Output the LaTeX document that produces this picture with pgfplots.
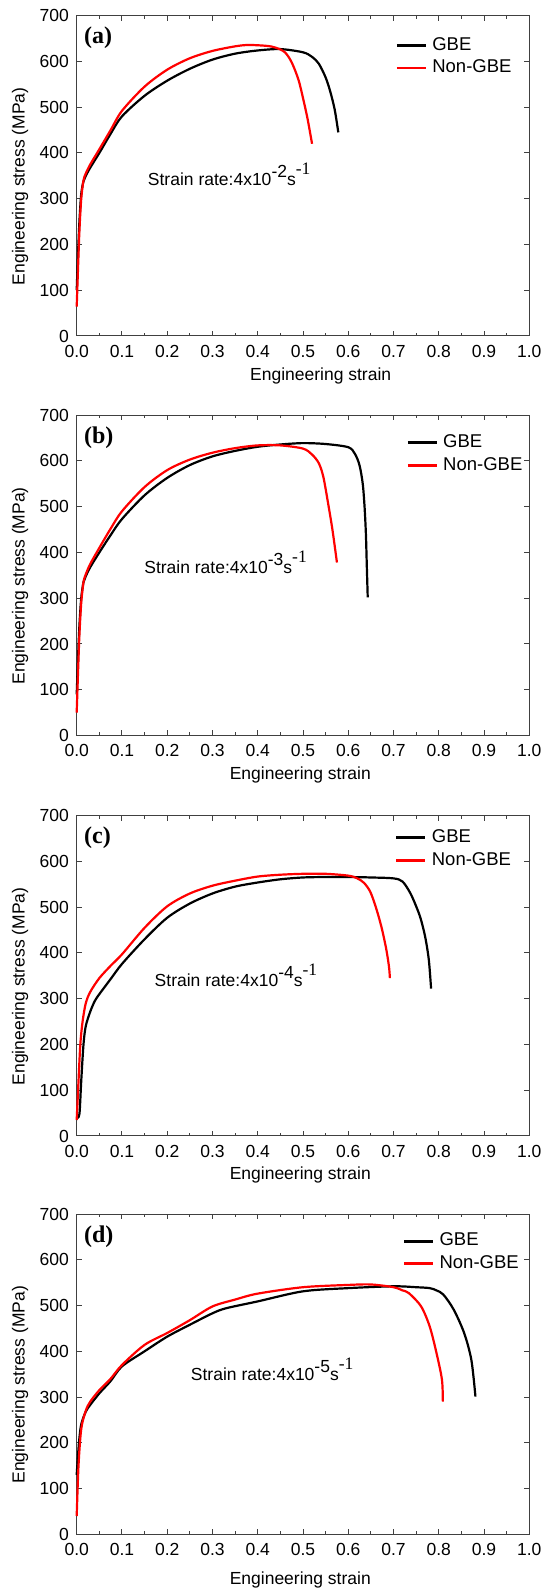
\documentclass[border=0pt]{standalone}
\usepackage{fontspec}
\setmainfont{Liberation Sans}
\newfontfamily\serifff{Liberation Serif}
\usepackage{pgfplots}
\pgfplotsset{compat=1.18}
\newcommand{\fs}{\fontsize{17.5}{20}\selectfont}
\pgfplotsset{
  myaxis/.style={
    scale only axis, width=452.6pt, height=320.3pt,
    xmin=0, xmax=1, ymin=0, ymax=700,
    xtick={0,0.1,0.2,0.3,0.4,0.5,0.6,0.7,0.8,0.9,1.0}, minor x tick num=1,
    ytick={0,100,200,300,400,500,600,700},
    axis line style={black!75, line width=1pt},
    every tick/.style={black!75, line width=1pt},
    major tick length=5pt, minor tick length=3pt,
    tick label style={font=\fs},
    label style={font=\fs},
    xticklabel style={inner sep=0pt, yshift=-9pt, /pgf/number format/.cd, fixed, fixed zerofill, precision=1},
    yticklabel style={inner sep=0pt, xshift=-7.7pt, /pgf/number format/fixed},
    /pgf/number format/assume math mode=true,
    xlabel={Engineering strain}, ylabel={Engineering stress (MPa)},
    ylabel style={at={(axis description cs:-0.1253,0.467)}, anchor=center, rotate=0},
    legend cell align=left,
    legend image code/.code={\draw[#1, line width=2.8pt] (0pt,0pt) -- (29pt,0pt);},
    legend style={draw=none, fill=none, inner sep=0pt, row sep=3.0pt, column sep=4pt,
      font=\fontsize{18.5}{21}\selectfont, nodes={inner sep=1pt, text height=13.5pt, text depth=4pt}, anchor=north west},
    clip=false,
  },
  gbe/.style={black, line width=2.2pt, line join=round, smooth, tension=0.5},
  ngbe/.style={red, line width=2.2pt, line join=round, smooth, tension=0.5},
}
\begin{document}
\begin{tikzpicture}
\useasboundingbox (0,0) rectangle (544pt,1591pt);
% ---------------- (a)
\begin{axis}[myaxis, at={(76.7pt,1255pt)}, anchor=south west,
  xlabel style={at={(axis description cs:0.539,-0.125)}, anchor=center},
  legend style={at={(axis description cs:0.704,0.938)}}]
\addplot[gbe] coordinates {(0,100)(0.003,180)(0.006,250)(0.01,310)(0.015,338)(0.02,350)(0.03,368)(0.05,400)(0.075,442)(0.1,480)(0.15,525)(0.2,558)(0.25,584)(0.3,604)(0.35,617)(0.4,624)(0.45,627)(0.5,620)(0.52,610)(0.535,595)(0.55,565)(0.56,535)(0.57,495)(0.578,445)};
\addplot[ngbe] coordinates {(0,64)(0.003,150)(0.006,230)(0.01,300)(0.015,340)(0.02,355)(0.03,375)(0.05,408)(0.075,450)(0.1,492)(0.15,545)(0.2,582)(0.25,607)(0.3,623)(0.35,633)(0.38,636)(0.42,634)(0.44,630)(0.46,620)(0.475,598)(0.49,560)(0.5,520)(0.51,475)(0.52,420)};
\legend{GBE,Non-GBE}
\node[anchor=west, inner sep=0pt, font=\serifff\bfseries\fontsize{24}{26}\selectfont] at (axis description cs:0.016,0.93) {(a)};
\node[anchor=base west, inner sep=0pt, font=\fs] at (axis cs:0.157,328) {Strain rate:4x10\raisebox{8pt}{-2}s\raisebox{11pt}{\serifff -1}};
\end{axis}
% ---------------- (b)
\begin{axis}[myaxis, at={(76.7pt,855.5pt)}, anchor=south west,
  xlabel style={at={(axis description cs:0.494,-0.122)}, anchor=center},
  legend style={at={(axis description cs:0.728,0.945)}}]
\addplot[gbe] coordinates {(0,90)(0.003,170)(0.006,240)(0.01,300)(0.015,335)(0.02,348)(0.03,368)(0.05,400)(0.075,438)(0.1,473)(0.15,525)(0.2,563)(0.25,591)(0.3,610)(0.35,622)(0.4,631)(0.45,636)(0.5,639)(0.55,637)(0.6,630)(0.615,615)(0.625,590)(0.632,550)(0.636,500)(0.639,440)(0.641,370)(0.643,302)};
\addplot[ngbe] coordinates {(0,50)(0.003,140)(0.006,220)(0.01,290)(0.015,335)(0.02,352)(0.03,375)(0.05,410)(0.075,452)(0.1,490)(0.15,543)(0.2,580)(0.25,603)(0.3,618)(0.35,628)(0.4,634)(0.45,634)(0.5,627)(0.52,614)(0.535,595)(0.545,565)(0.555,510)(0.565,450)(0.575,378)};
\legend{GBE,Non-GBE}
\node[anchor=west, inner sep=0pt, font=\serifff\bfseries\fontsize{24}{26}\selectfont] at (axis description cs:0.016,0.93) {(b)};
\node[anchor=base west, inner sep=0pt, font=\fs] at (axis cs:0.149,354) {Strain rate:4x10\raisebox{8pt}{-3}s\raisebox{11pt}{\serifff -1}};
\end{axis}
% ---------------- (c)
\begin{axis}[myaxis, at={(76.7pt,455pt)}, anchor=south west,
  xlabel style={at={(axis description cs:0.494,-0.122)}, anchor=center},
  legend style={at={(axis description cs:0.703,0.962)}}]
\addplot[gbe] coordinates {(0,40)(0.006,48)(0.01,120)(0.015,200)(0.02,240)(0.03,272)(0.04,295)(0.05,310)(0.075,343)(0.1,376)(0.15,430)(0.2,477)(0.25,508)(0.3,530)(0.35,545)(0.4,554)(0.45,561)(0.5,565)(0.55,566)(0.6,566)(0.65,565)(0.7,563)(0.72,556)(0.737,531)(0.75,502)(0.76,475)(0.77,435)(0.778,385)(0.783,322)};
\addplot[ngbe] coordinates {(0,35)(0.004,120)(0.008,200)(0.013,250)(0.02,290)(0.03,315)(0.05,345)(0.075,372)(0.1,397)(0.15,455)(0.2,502)(0.25,530)(0.3,547)(0.35,558)(0.4,567)(0.45,571)(0.5,573)(0.55,573)(0.6,569)(0.62,563)(0.635,553)(0.648,535)(0.658,509)(0.667,480)(0.675,450)(0.684,408)(0.69,370)(0.692,345)};
\legend{GBE,Non-GBE}
\node[anchor=west, inner sep=0pt, font=\serifff\bfseries\fontsize{24}{26}\selectfont] at (axis description cs:0.016,0.93) {(c)};
\node[anchor=base west, inner sep=0pt, font=\fs] at (axis cs:0.172,327) {Strain rate:4x10\raisebox{8pt}{-4}s\raisebox{11pt}{\serifff -1}};
\end{axis}
% ---------------- (d)
\begin{axis}[myaxis, at={(76.7pt,56.7pt)}, anchor=south west,
  xlabel style={at={(axis description cs:0.494,-0.1436)}, anchor=center},
  legend style={at={(axis description cs:0.720,0.946)}}]
\addplot[gbe] coordinates {(0,130)(0.005,200)(0.01,240)(0.02,268)(0.03,283)(0.05,308)(0.075,335)(0.1,367)(0.15,400)(0.2,432)(0.25,458)(0.3,483)(0.33,494)(0.4,509)(0.5,531)(0.6,538)(0.7,542)(0.75,540)(0.78,538)(0.795,533)(0.81,524)(0.833,491)(0.856,440)(0.872,381)(0.881,301)};
\addplot[ngbe] coordinates {(0,40)(0.004,150)(0.01,230)(0.02,270)(0.03,290)(0.05,315)(0.075,340)(0.1,370)(0.15,414)(0.2,440)(0.25,468)(0.3,498)(0.35,513)(0.4,526)(0.5,540)(0.6,545)(0.65,546)(0.7,540)(0.72,533)(0.734,527)(0.761,498)(0.78,454)(0.795,396)(0.807,338)(0.809,290)};
\legend{GBE,Non-GBE}
\node[anchor=west, inner sep=0pt, font=\serifff\bfseries\fontsize{24}{26}\selectfont] at (axis description cs:0.016,0.93) {(d)};
\node[anchor=base west, inner sep=0pt, font=\fs] at (axis cs:0.252,336) {Strain rate:4x10\raisebox{8pt}{-5}s\raisebox{11pt}{\serifff -1}};
\end{axis}
\end{tikzpicture}
\end{document}
